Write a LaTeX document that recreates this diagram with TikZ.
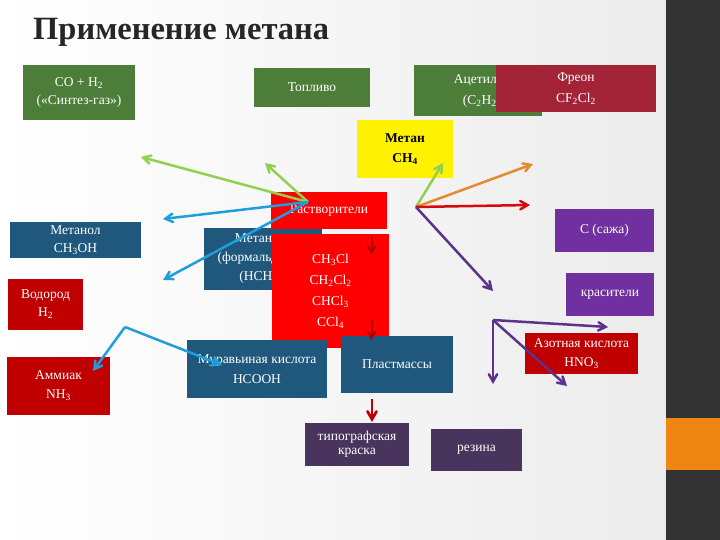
\documentclass[tikz,border=0pt]{standalone}
\usepackage{fontspec}
\setmainfont{Liberation Serif}
\usetikzlibrary{arrows,calc,positioning}
\definecolor{syngreen}{RGB}{76,126,58}
\definecolor{freonred}{RGB}{162,36,54}
\definecolor{seablue}{RGB}{31,88,124}
\definecolor{brickred}{RGB}{192,0,0}
\definecolor{grape}{RGB}{112,48,160}
\definecolor{inkplum}{RGB}{72,52,92}
\definecolor{titlegray}{RGB}{38,38,38}
\definecolor{panelgray}{RGB}{51,51,51}
\definecolor{panelorange}{RGB}{239,133,18}
\definecolor{arrgreen}{RGB}{146,208,80}
\definecolor{arrblue}{RGB}{30,158,220}
\definecolor{arrorange}{RGB}{228,138,48}
\definecolor{arrred}{RGB}{214,10,10}
\definecolor{arrplum}{RGB}{92,50,140}
\tikzset{%
	box/.style       = {rectangle, inner sep=0pt, text=white, align=center, font=\fontsize{13.5}{19}\selectfont},
	greenbox/.style  = {box, fill=syngreen},
	freonbox/.style  = {box, fill=freonred},
	bluebox/.style   = {box, fill=seablue},
	redbox/.style    = {box, fill=red},
	brickbox/.style  = {box, fill=brickred},
	grapebox/.style  = {box, fill=grape},
	inkbox/.style    = {box, fill=inkplum},
	title/.style     = {anchor=base west, inner sep=0pt, text=titlegray, font=\fontsize{32.5}{38}\selectfont\bfseries},
	link/.style      = {line width=2.5pt, ->},
}
\begin{document}
\begin{tikzpicture}[x=1pt,y=-1pt,>=angle 60]
	\useasboundingbox (0,0) rectangle (720,540);
	% slide background
	\fill[left color=white, right color=gray!15] (0,0) rectangle (666,540);
	\fill[panelgray] (666,0) rectangle (720,540);
	\fill[panelorange] (666,418) rectangle (720,470);
	
	\node [title] (head) at (33,40) {Применение метана};
	
	% top row
	\node [greenbox, minimum width=112pt, minimum height=55pt, font=\fontsize{13.5}{18}\selectfont] (syngas) at (79,92.5) {CO + H\textsubscript{2}\\(«Синтез-газ»)};
	\node [greenbox, minimum width=116pt, minimum height=39pt] (fuel) at (312,87.5) {Топливо};
	\node [greenbox, minimum width=128pt, minimum height=51pt, font=\fontsize{13.5}{21}\selectfont] (acetylene) at (478,90.5) {\hspace*{8pt}Ацетилен\\\hspace*{8pt}(C\textsubscript{2}H\textsubscript{2})};
	\node [freonbox, minimum width=160pt, minimum height=47pt, font=\fontsize{13.5}{21}\selectfont] (freon) at (576,88.5) {Фреон\\CF\textsubscript{2}Cl\textsubscript{2}};
	\node [box, fill=yellow, text=black, minimum width=96pt, minimum height=58pt, font=\fontsize{13.5}{20}\selectfont\bfseries] (methane) at (405,149) {Метан\\CH\textsubscript{4}};
	
	% middle
	\node [bluebox, minimum width=131pt, minimum height=36pt, font=\fontsize{13.5}{18}\selectfont] (methanol) at (75.5,240) {Метанол\\CH\textsubscript{3}OH};
	\node [bluebox, minimum width=118pt, minimum height=62pt] (formal) at (263,259) {Метаналь\\(формальдегид)\\(HCHO)};
	\node [redbox, minimum width=116pt, minimum height=37pt] (solvent) at (329,210.5) {Растворители};
	\node [redbox, minimum width=117pt, minimum height=114pt, font=\fontsize{13.5}{21}\selectfont] (chloro) at (330.5,291) {CH\textsubscript{3}Cl\\CH\textsubscript{2}Cl\textsubscript{2}\\CHCl\textsubscript{3}\\CCl\textsubscript{4}};
	\node [brickbox, minimum width=75pt, minimum height=51pt, font=\fontsize{13.5}{18}\selectfont] (hydrogen) at (45.5,304) {Водород\\H\textsubscript{2}};
	\node [brickbox, minimum width=103pt, minimum height=58pt] (ammonia) at (58.5,386) {Аммиак\\NH\textsubscript{3}};
	\node [grapebox, minimum width=99pt, minimum height=43pt] (soot) at (604.5,230.5) {C (сажа)};
	\node [grapebox, minimum width=88pt, minimum height=43pt] (dyes) at (610,294.5) {красители};
	
	% bottom
	\node [bluebox, minimum width=140pt, minimum height=58pt, font=\fontsize{13.5}{20}\selectfont] (formic) at (257,369) {Муравьиная кислота\\HCOOH};
	\node [bluebox, minimum width=112pt, minimum height=57pt] (plastics) at (397,364.5) {Пластмассы};
	\node [brickbox, minimum width=113pt, minimum height=41pt] (nitric) at (581.5,353.5) {Азотная кислота\\HNO\textsubscript{3}};
	\node [inkbox, minimum width=104pt, minimum height=43pt, font=\fontsize{13.5}{14}\selectfont] (ink) at (357,444.5) {типографская\\краска};
	\node [inkbox, minimum width=91pt, minimum height=42pt] (rubber) at (476.5,450) {резина};
	
	% arrow forks and free ends
	\coordinate (fork1) at (308,202);
	\coordinate (fork2) at (416,207);
	\coordinate (fork3) at (125,327);
	\coordinate (fork4) at (493,320);
	\coordinate (toSyngas) at (141,157);
	\coordinate (toFuel) at (265,163);
	\coordinate (toMethanol) at (163,219);
	\coordinate (toHydrogen) at (163,280);
	\coordinate (toAmmonia) at (93,371);
	\coordinate (toFormic) at (222,365);
	\coordinate (toMethane) at (443,163);
	\coordinate (toFreon) at (533,164);
	\coordinate (toSoot) at (530,205);
	\coordinate (toDyes) at (493,291);
	\coordinate (toNitric) at (608,327);
	\coordinate (toRubber) at (493,384);
	\coordinate (toLower) at (567,386);
	\coordinate (plasticsOut) at (372,399);
	\coordinate (inkIn) at (372,422);
	
	\draw[link, arrgreen] (fork1) -- (toSyngas);
	\draw[link, arrgreen] (fork1) -- (toFuel);
	\draw[link, arrblue] (fork1) -- (toMethanol);
	\draw[link, arrblue] (fork1) -- (toHydrogen);
	\draw[link, arrblue] (fork3) -- (toAmmonia);
	\draw[link, arrblue] (fork3) -- (toFormic);
	\draw[link, arrgreen] (fork2) -- (toMethane);
	\draw[link, arrorange] (fork2) -- (toFreon);
	\draw[link, arrred] (fork2) -- (toSoot);
	\draw[link, arrplum] (fork2) -- (toDyes);
	\draw[link, arrplum] (fork4) -- (toNitric);
	\draw[link, arrplum] (fork4) -- (toRubber);
	\draw[link, arrplum] (fork4) -- (toLower);
	\draw[link, brickred, line width=2.8pt] (plasticsOut) -- (inkIn);
	% faint arrows inside the chloromethane box
	\draw[link, brickred!90!black, line width=2pt] ($(chloro.north)+(41,3)$) -- ($(chloro.north)+(41,21)$);
	\draw[link, brickred!90!black, line width=2pt] ($(chloro.south)+(41,-28)$) -- ($(chloro.south)+(41,-8)$);
\end{tikzpicture}
\end{document}
